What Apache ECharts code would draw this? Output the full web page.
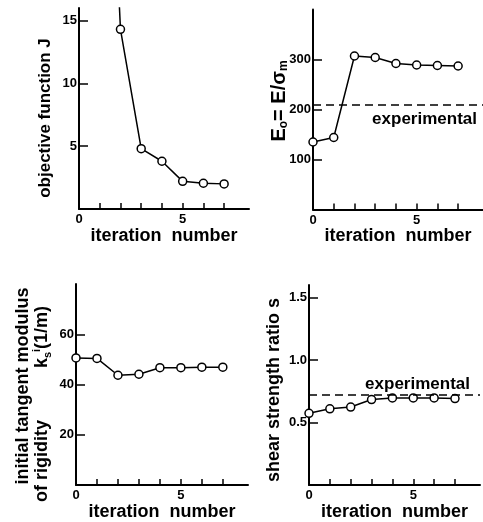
<!DOCTYPE html>
<html>
<head>
<meta charset="utf-8">
<script src="https://cdn.jsdelivr.net/npm/echarts@6/dist/echarts.min.js"></script>
<style>
  html, body { margin: 0; padding: 0; background: #fff; }
  #main { width: 483px; height: 522px; }
</style>
</head>
<body>
<div id="main"></div>
<script>
var iterations = [0, 1, 2, 3, 4, 5, 6, 7];
// iteration 1 of J is off the top of the scale
var objectiveJ = [null, 50, 14.3, 4.8, 3.8, 2.2, 2.05, 2.0];
var modulusE0 = [135, 144, 307, 304, 292, 289, 288, 287];
var rigidityKs = [50.6, 50.4, 43.7, 44.1, 46.7, 46.7, 46.9, 46.9];
var shearRatio = [0.574, 0.61, 0.624, 0.684, 0.697, 0.697, 0.697, 0.692];
var experimentalE0 = 210;
var experimentalS = 0.716;

var xLabelValues = [0, 5];
var xTickValues = [1, 2, 3, 4, 5, 6, 7];
var yTicksJ = [5, 10, 15];
var yTicksE0 = [100, 200, 300];
var yTicksKs = [20, 40, 60];
var yTicksS = [0.5, 1.0, 1.5];

var chartDom = document.getElementById('main');
var myChart = echarts.init(chartDom);
var option;

var FONT = 'Liberation Sans';

function pairs(ys) {
    return iterations.map(function (x, i) { return [x, ys[i]]; });
}

function xAxisFor(idx) {
    return {
        type: 'value',
        gridIndex: idx,
        min: 0,
        max: 8.2,
        name: 'iteration  number',
        nameLocation: 'middle',
        nameGap: 14,
        nameTextStyle: { color: '#000', fontFamily: FONT, fontWeight: 'bold', fontSize: 18 },
        axisLine: { lineStyle: { color: '#000', width: 2 } },
        axisTick: { inside: true, length: 6, customValues: xTickValues, lineStyle: { color: '#000', width: 1.5 } },
        axisLabel: { customValues: xLabelValues, margin: 4, color: '#000', fontFamily: FONT, fontWeight: 'bold', fontSize: 13 },
        splitLine: { show: false }
    };
}

function yAxisFor(idx, max, ticks, fmt) {
    return {
        type: 'value',
        gridIndex: idx,
        min: 0,
        max: max,
        axisLine: { show: true, onZero: false, lineStyle: { color: '#000', width: 2 } },
        axisTick: { show: true, inside: true, length: 9, customValues: ticks, lineStyle: { color: '#000', width: 1.5 } },
        axisLabel: {
            customValues: ticks, margin: 2, color: '#000', fontFamily: FONT, fontWeight: 'bold', fontSize: 13,
            formatter: fmt
        },
        splitLine: { show: false }
    };
}

function lineSeries(idx, ys, extra) {
    var s = {
        type: 'line',
        xAxisIndex: idx,
        yAxisIndex: idx,
        data: pairs(ys),
        clip: true,
        symbol: 'circle',
        symbolSize: 8,
        lineStyle: { color: '#000', width: 1.5 },
        itemStyle: { color: '#fff', borderColor: '#000', borderWidth: 1.5 },
        emphasis: { disabled: true },
        silent: true
    };
    if (extra) s.markLine = extra;
    return s;
}

function expLine(value, pos, dist) {
    return {
        silent: true,
        symbol: ['none', 'none'],
        lineStyle: { color: '#000', width: 1.5, type: [8, 5] },
        label: {
            show: true, position: pos, formatter: 'experimental', distance: dist,
            color: '#000', fontFamily: FONT, fontWeight: 'bold', fontSize: 17
        },
        data: [{ yAxis: value }]
    };
}

var nameFont = 'bold 17px "Liberation Sans"';

option = {
    animation: false,
    backgroundColor: '#fff',
    grid: [
        { left: 79, top: 8, width: 170, height: 201 },
        { left: 313, top: 9.5, width: 170, height: 200 },
        { left: 76, top: 284, width: 172, height: 204 },
        { left: 309, top: 285, width: 171, height: 203.5 }
    ],
    xAxis: [xAxisFor(0), xAxisFor(1), xAxisFor(2), xAxisFor(3)],
    yAxis: [
        yAxisFor(0, 16, yTicksJ),
        yAxisFor(1, 400, yTicksE0),
        yAxisFor(2, 80, yTicksKs),
        yAxisFor(3, 1.6, yTicksS, function (v) { return v.toFixed(1); })
    ],
    series: [
        lineSeries(0, objectiveJ),
        lineSeries(1, modulusE0, expLine(experimentalE0, 'insideEndBottom', [6, 6])),
        lineSeries(2, rigidityKs),
        lineSeries(3, shearRatio, expLine(experimentalS, 'insideEndTop', [10, 2]))
    ],
    graphic: [
        {
            type: 'text', x: 45, y: 118, rotation: Math.PI / 2,
            style: { text: 'objective function J', font: nameFont, fill: '#000', align: 'center', verticalAlign: 'middle' }
        },
        {
            type: 'text', x: 279, y: 101, rotation: Math.PI / 2,
            style: {
                text: '{b|E}{s|o}{b|= E/σ}{s|m}',
                align: 'center', verticalAlign: 'middle',
                rich: {
                    b: { fontFamily: FONT, fontWeight: 'bold', fontSize: 20, lineHeight: 22, fill: '#000' },
                    s: { fontFamily: FONT, fontWeight: 'bold', fontSize: 12, lineHeight: 12, verticalAlign: 'bottom', fill: '#000' }
                }
            }
        },
        {
            type: 'text', x: 23, y: 386, rotation: Math.PI / 2,
            style: { text: 'initial tangent modulus', font: 'bold 18px "Liberation Sans"', fill: '#000', align: 'center', verticalAlign: 'middle' }
        },
        {
            type: 'text', x: 42, y: 461, rotation: Math.PI / 2,
            style: { text: 'of rigidity', font: 'bold 18px "Liberation Sans"', fill: '#000', align: 'center', verticalAlign: 'middle' }
        },
        {
            type: 'text', x: 42, y: 337, rotation: Math.PI / 2,
            style: {
                text: '{b|k}{s|s}{t|i}{b|(1/m)}',
                align: 'center', verticalAlign: 'middle',
                rich: {
                    b: { fontFamily: FONT, fontWeight: 'bold', fontSize: 18, lineHeight: 22, fill: '#000' },
                    s: { fontFamily: FONT, fontWeight: 'bold', fontSize: 11, lineHeight: 11, verticalAlign: 'bottom', fill: '#000' },
                    t: { fontFamily: FONT, fontWeight: 'bold', fontSize: 11, lineHeight: 11, verticalAlign: 'top', fill: '#000' }
                }
            }
        },
        {
            type: 'text', x: 274, y: 390, rotation: Math.PI / 2,
            style: { text: 'shear strength ratio s', font: 'bold 18px "Liberation Sans"', fill: '#000', align: 'center', verticalAlign: 'middle' }
        }
    ]
};

option && myChart.setOption(option);
</script>
</body>
</html>
